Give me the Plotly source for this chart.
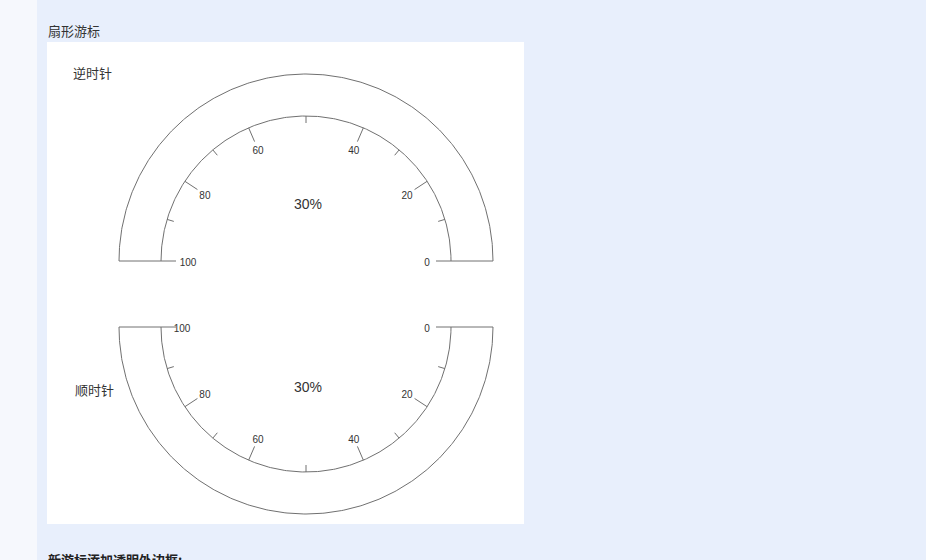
import numpy as np
import plotly.graph_objects as go

# ---------------- data ----------------
TITLE = "扇形游标"
FOOTER = "新游标添加透明外边框:"
GAUGE_NAMES = ["逆时针", "顺时针"]
GAUGE_DIRECTIONS = ["ccw", "cw"]
GAUGE_VALUES = [30, 30]
AXIS_MIN, AXIS_MAX = 0, 100
MAJOR_TICKS = [0, 20, 40, 60, 80, 100]
MINOR_TICKS = [10, 30, 50, 70, 90]

# ---------------- layout constants ----------------
W, H = 926, 560
CENTERS = [(306, 261), (306, 327)]
R_OUT, R_IN = 187, 145
MAJOR_LEN, MINOR_LEN = 15, 7
LABEL_R = 121
LINE_COLOR = "#707070"
TEXT_COLOR = "#333333"
FONT = "Liberation Sans, Arial, Noto Sans CJK SC, sans-serif"
CJK = "Noto Sans CJK SC, sans-serif"

# angular scale of the gauge (value -> degrees from the right-hand end)
SCALE_DOMAIN = [AXIS_MIN, 40, 60, AXIS_MAX]
SCALE_RANGE = [0.0, 66.7, 113.3, 180.0]


def angle(v):
    return np.radians(np.interp(v, SCALE_DOMAIN, SCALE_RANGE))


def point(center, direction, r, v):
    a = angle(v)
    cx, cy = center
    s = -1 if direction == "ccw" else 1
    return cx + r * np.cos(a), cy + s * r * np.sin(a)


fig = go.Figure()
annotations = []

for name, direction, val, center in zip(GAUGE_NAMES, GAUGE_DIRECTIONS, GAUGE_VALUES, CENTERS):
    vs = np.linspace(AXIS_MIN, AXIS_MAX, 361)
    ox, oy = point(center, direction, R_OUT, vs)
    ix, iy = point(center, direction, R_IN, vs[::-1])
    xs = np.concatenate([ox, ix, ox[:1]])
    ys = np.concatenate([oy, iy, oy[:1]])
    fig.add_trace(go.Scatter(x=xs, y=ys, mode="lines",
                             line=dict(color=LINE_COLOR, width=1),
                             hoverinfo="skip", showlegend=False))
    # ticks
    tx, ty = [], []
    for t in MAJOR_TICKS:
        x0, y0 = point(center, direction, R_IN, t)
        x1, y1 = point(center, direction, R_IN - MAJOR_LEN, t)
        tx += [x0, x1, None]
        ty += [y0, y1, None]
    for t in MINOR_TICKS:
        x0, y0 = point(center, direction, R_IN, t)
        x1, y1 = point(center, direction, R_IN - MINOR_LEN, t)
        tx += [x0, x1, None]
        ty += [y0, y1, None]
    fig.add_trace(go.Scatter(x=tx, y=ty, mode="lines",
                             line=dict(color=LINE_COLOR, width=1),
                             hoverinfo="skip", showlegend=False))
    # labels (the end label "100" sits a little further from its tick on the upper gauge)
    lr = np.array([LABEL_R] * len(MAJOR_TICKS), dtype=float)
    lr[-1] = LABEL_R - 3 if direction == "ccw" else LABEL_R + 3
    lx, ly = point(center, direction, lr, np.array(MAJOR_TICKS))
    fig.add_trace(go.Scatter(x=lx, y=ly + 2, mode="text",
                             text=[str(t) for t in MAJOR_TICKS],
                             textposition="middle center",
                             textfont=dict(size=10, color=TEXT_COLOR, family=FONT),
                             hoverinfo="skip", showlegend=False))
    # centre value
    cx, cy = center
    off = -57 if direction == "ccw" else 60
    annotations.append(dict(x=cx + 2, y=cy + off, xref="x", yref="y",
                            text=f"{val}%", showarrow=False,
                            font=dict(size=14, color=TEXT_COLOR, family=FONT)))
    # gauge name
    ny = 72 if direction == "ccw" else 389
    nx = 92 if direction == "ccw" else 94
    annotations.append(dict(x=nx, y=ny, xref="x", yref="y", text=name,
                            showarrow=False,
                            font=dict(size=13, color=TEXT_COLOR, family=CJK)))

annotations.append(dict(x=46, y=30, xref="x", yref="y", text=TITLE,
                        xanchor="left", yanchor="middle", showarrow=False,
                        font=dict(size=13, color=TEXT_COLOR, family=CJK)))
annotations.append(dict(x=46 / W, y=(H - 559) / H, xref="paper", yref="paper",
                        text=f"<b>{FOOTER}</b>",
                        xanchor="left", yanchor="middle", showarrow=False,
                        font=dict(size=13, color="#222222", family=CJK)))

shapes = [
    dict(type="rect", xref="x", yref="y", x0=0, x1=37, y0=0, y1=H,
         fillcolor="#f6f8fd", line=dict(width=0), layer="below"),
    dict(type="rect", xref="x", yref="y", x0=47, x1=524, y0=42, y1=524,
         fillcolor="#ffffff", line=dict(width=0), layer="below"),
]

fig.update_layout(
    width=W, height=H,
    margin=dict(l=0, r=0, t=0, b=0),
    paper_bgcolor="#e8effc",
    plot_bgcolor="rgba(0,0,0,0)",
    xaxis=dict(range=[0, W], visible=False, fixedrange=True),
    yaxis=dict(range=[H, 0], visible=False, fixedrange=True),
    shapes=shapes,
    annotations=annotations,
    showlegend=False,
)

fig.write_html(
    "out.html",
    config={"displayModeBar": False},
    post_script=("document.body.style.margin='0';"
                 "document.body.style.padding='0';"
                 "document.body.style.overflow='hidden';"),
)
